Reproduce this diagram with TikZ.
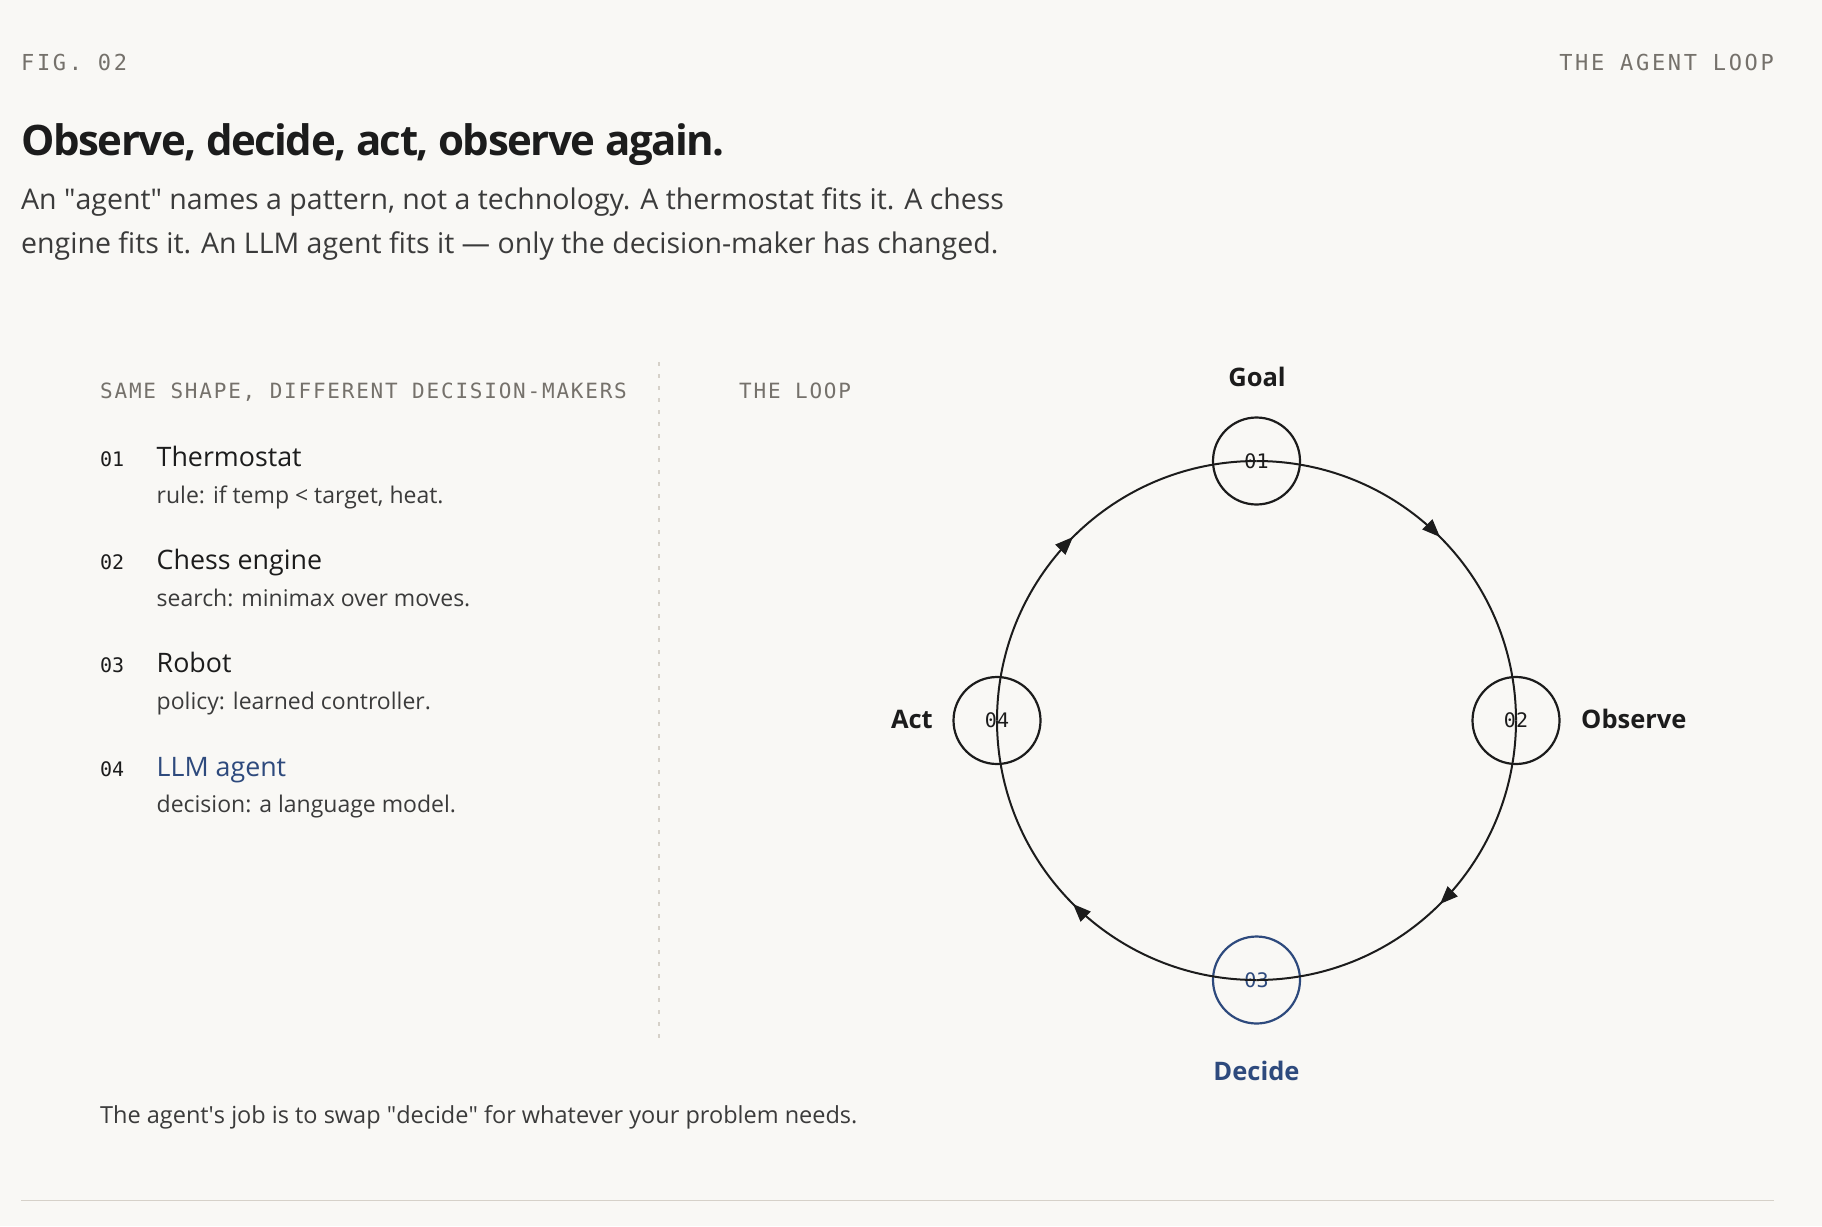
\documentclass[tikz,border=0pt]{standalone}
\usepackage{fontspec}
\setmainfont{Open Sans}
\setmonofont{DejaVu Sans Mono}
\usetikzlibrary{positioning, arrows.meta, decorations.markings}
\definecolor{paper}{HTML}{F9F8F5}
\definecolor{ink}{HTML}{1C1C1C}
\definecolor{body}{HTML}{3B3B3B}
\definecolor{muted}{HTML}{75716B}
\definecolor{accent}{HTML}{2E4A7D}
\definecolor{hairline}{HTML}{D6D1C9}
\tikzset{kicker/.style={inner sep=0pt, text=muted, font=\ttfamily\fontsize{22}{22}\selectfont\addfontfeatures{LetterSpace=12}},
         colhead/.style={anchor=base west, inner sep=0pt, text=muted, font=\ttfamily\fontsize{21}{21}\selectfont\addfontfeatures{LetterSpace=8.5}},
         itemnum/.style={anchor=base west, inner sep=0pt, text=ink, font=\ttfamily\fontsize{20}{20}\selectfont},
         itemname/.style={anchor=base west, inner sep=0pt, text=ink, font=\fontsize{26.8}{26.8}\selectfont},
         itemnote/.style={anchor=base west, inner sep=0pt, text=body, font=\fontsize{23}{23}\selectfont},
         stage/.style={circle, draw=ink, line width=2.2pt, minimum size=87pt, inner sep=0pt, text=ink, font=\ttfamily\fontsize{20}{20}\selectfont},
         stagename/.style={inner sep=0pt, text=ink, font=\bfseries\fontsize{25.5}{25.5}\selectfont},
         loop/.style={draw=ink, line width=2pt, postaction={decorate},
                      decoration={markings, mark=at position 0.5 with {\arrow{Triangle[length=18pt,width=14pt]}}}},
        }

\begin{document}
\begin{tikzpicture}[x=1pt,y=-1pt]
        \fill[paper] (0,0) rectangle (1822,1226);
        \useasboundingbox (0,0) rectangle (1822,1226);
        % header
        \node[kicker,anchor=base west](fig)at(21,70.7){FIG. 02};
        \node[kicker,anchor=base east](tag)at(1774,70.7){THE AGENT LOOP};
        \node[anchor=base west,inner sep=0pt,text=ink,font=\bfseries\fontsize{42}{42}\selectfont\addfontfeatures{LetterSpace=-3.5}](title)at(21,155){Observe, decide, act, observe again.};
        \node[anchor=base west,inner sep=0pt,text=body,align=left,font=\fontsize{28.5}{43.5}\selectfont](lede)at(21,253){An \textquotedbl agent\textquotedbl{} names a pattern, not a technology. A thermostat fits it. A chess\\engine fits it. An LLM agent fits it — only the decision-maker has changed.};
        % left column
        \node[colhead](lefthead)at(100,398){SAME SHAPE, DIFFERENT DECISION-MAKERS};
        \node[itemnum](n1)at(100,466){01};
        \node[itemname](t1)at(156.5,466){Thermostat};
        \node[itemnote](d1)at(156.5,503){rule: if temp < target, heat.};
        \node[itemnum](n2)at(100,569){02};
        \node[itemname](t2)at(156.5,569){Chess engine};
        \node[itemnote](d2)at(156.5,606){search: minimax over moves.};
        \node[itemnum](n3)at(100,672){03};
        \node[itemname](t3)at(156.5,672){Robot};
        \node[itemnote](d3)at(156.5,709){policy: learned controller.};
        \node[itemnum](n4)at(100,776){04};
        \node[itemname,text=accent](t4)at(156.5,776){LLM agent};
        \node[itemnote](d4)at(156.5,812){decision: a language model.};
        \coordinate(divtop)at(658.5,362);
        \coordinate(divbot)at(658.5,1040);
        \draw[hairline,line width=2pt,dash pattern=on 4pt off 8pt](divtop)--(divbot);
        % the loop
        \node[colhead](righthead)at(739,398){THE LOOP};
        \node[stage](goal)at(1256.5,461){01};
        \node[stage](observe)at(1516,720.5){02};
        \node[stage,draw=accent,text=accent](decide)at(1256.5,980){03};
        \node[stage](act)at(997,720.5){04};
        \draw[loop](goal.center) arc[start angle=90,end angle=0,radius=259.5pt];
        \draw[loop](observe.center) arc[start angle=0,end angle=-90,radius=259.5pt];
        \draw[loop](decide.center) arc[start angle=-90,end angle=-180,radius=259.5pt];
        \draw[loop](act.center) arc[start angle=180,end angle=90,radius=259.5pt];
        \node[stagename,anchor=base](goallbl)at(1257,386){Goal};
        \node[stagename,anchor=base west](observelbl)at(1581,728){Observe};
        \node[stagename,anchor=base,text=accent](decidelbl)at(1256.5,1080){Decide};
        \node[stagename,anchor=base east](actlbl)at(933,728){Act};
        % footer
        \node[itemnote,font=\fontsize{23.5}{23.5}\selectfont](foot)at(100,1123){The agent\textquotesingle s job is to swap \textquotedbl decide\textquotedbl{} for whatever your problem needs.};
        \draw[hairline,line width=1.5pt](21,1200.5)--(1774,1200.5);
    \end{tikzpicture}
\end{document}
